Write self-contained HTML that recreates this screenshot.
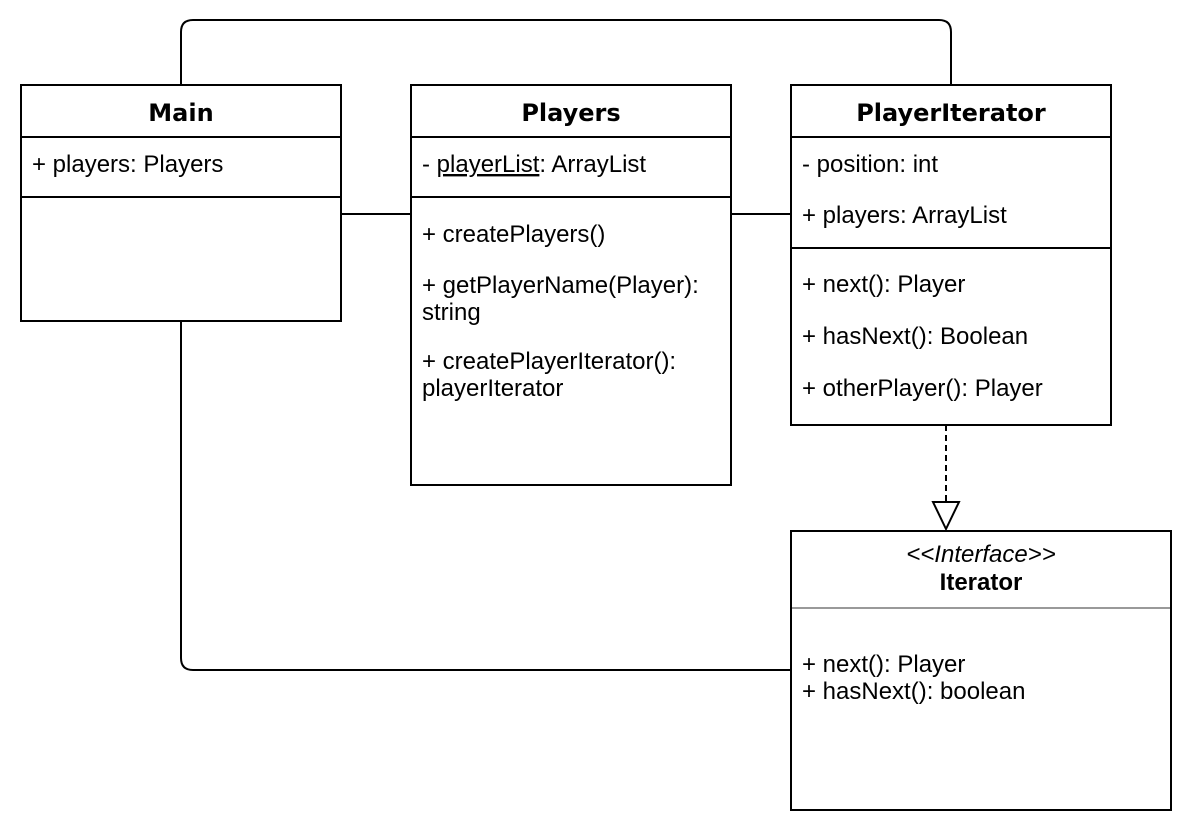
<!DOCTYPE html>
<html><head><meta charset="utf-8"><style>
body{margin:0;background:#fff;width:1192px;height:832px;overflow:hidden}
</style></head><body>
<svg width="1192" height="832" xmlns="http://www.w3.org/2000/svg">
<g fill="none" stroke="#000" stroke-width="2">
<path d="M181 85 V32 Q181 20 193 20 H939 Q951 20 951 32 V85"/>
<path d="M181 321 V658 Q181 670 193 670 H791"/>
<line x1="341" y1="214" x2="411" y2="214"/>
<line x1="731" y1="214" x2="791" y2="214"/>
<line x1="946" y1="425" x2="946" y2="502" stroke-dasharray="6 4"/>
<path d="M933 502 L959 502 L946 529 Z" fill="#fff"/>
<rect x="21" y="85" width="320" height="236" fill="#fff"/>
<line x1="21" y1="137" x2="341" y2="137"/><line x1="21" y1="197" x2="341" y2="197"/>
<rect x="411" y="85" width="320" height="400" fill="#fff"/>
<line x1="411" y1="137" x2="731" y2="137"/><line x1="411" y1="197" x2="731" y2="197"/>
<rect x="791" y="85" width="320" height="340" fill="#fff"/>
<line x1="791" y1="137" x2="1111" y2="137"/><line x1="791" y1="248" x2="1111" y2="248"/>
<rect x="791" y="531" width="380" height="279" fill="#fff"/>
</g>
<line x1="792" y1="608" x2="1170" y2="608" stroke="#999" stroke-width="2"/>
<g font-family="DejaVu Sans, sans-serif" font-weight="bold" font-size="24" fill="#000" text-anchor="middle">
<text x="181" y="121">Main</text>
<text x="571" y="121">Players</text>
<text x="951" y="121">PlayerIterator</text>
</g>
<g font-family="Liberation Sans, Arial, sans-serif" font-size="24" fill="#000">
<text x="32" y="172">+ players: Players</text>
<text x="422" y="172">- <tspan text-decoration="underline">playerList</tspan>: ArrayList</text>
<text x="422" y="242">+ createPlayers()</text>
<text x="422" y="293">+ getPlayerName(Player):</text>
<text x="422" y="320">string</text>
<text x="422" y="369">+ createPlayerIterator():</text>
<text x="422" y="396">playerIterator</text>
<text x="802" y="172">- position: int</text>
<text x="802" y="223">+ players: ArrayList</text>
<text x="802" y="292">+ next(): Player</text>
<text x="802" y="344">+ hasNext(): Boolean</text>
<text x="802" y="396">+ otherPlayer(): Player</text>
<text x="981" y="562" text-anchor="middle" font-style="italic">&lt;&lt;Interface&gt;&gt;</text>
<text x="981" y="590" text-anchor="middle" font-weight="bold">Iterator</text>
<text x="802" y="672">+ next(): Player</text>
<text x="802" y="699">+ hasNext(): boolean</text>
</g>
</svg>
</body></html>
